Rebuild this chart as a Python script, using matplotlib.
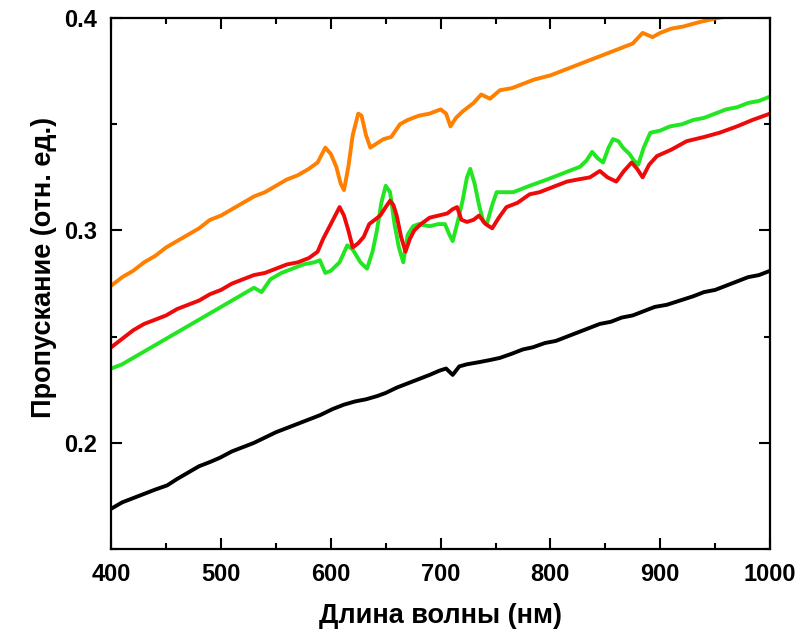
import matplotlib
matplotlib.use("Agg")
import matplotlib.pyplot as plt
from matplotlib.ticker import MultipleLocator

plt.rcParams['font.family'] = ['Liberation Sans', 'DejaVu Sans']
plt.rcParams['font.weight'] = 'bold'

# spectra: wavelength (nm) and transmission (arb. units)
wl_orange = [400, 410, 420, 430, 440, 450, 460, 470, 480, 490, 500, 510, 520, 530, 540,
             550, 560, 570, 580, 588, 595, 600, 605, 609, 612, 616, 620, 625, 628, 632,
             636, 642, 648, 655, 663, 670, 680, 690, 700, 705, 709, 714, 720, 730, 737,
             745, 754, 765, 775, 785, 800, 815, 830, 845, 860, 875, 884, 893, 900, 910,
             921, 935, 952, 965, 980, 1000]
t_orange = [0.274, 0.278, 0.281, 0.285, 0.288, 0.292, 0.295, 0.298, 0.301, 0.305, 0.307,
            0.310, 0.313, 0.316, 0.318, 0.321, 0.324, 0.326, 0.329, 0.332, 0.339, 0.336,
            0.330, 0.322, 0.319, 0.330, 0.345, 0.355, 0.354, 0.345, 0.339, 0.341, 0.343,
            0.344, 0.350, 0.352, 0.354, 0.355, 0.357, 0.355, 0.349, 0.353, 0.356, 0.360,
            0.364, 0.362, 0.366, 0.367, 0.369, 0.371, 0.373, 0.376, 0.379, 0.382, 0.385,
            0.388, 0.393, 0.391, 0.393, 0.395, 0.396, 0.398, 0.400, 0.401, 0.403, 0.406]

wl_green = [400, 410, 420, 430, 440, 450, 460, 470, 480, 490, 500, 510, 520, 530, 537,
            545, 555, 565, 575, 585, 590, 595, 600, 608, 615, 620, 627, 633, 638, 642,
            646, 650, 654, 658, 662, 666, 670, 675, 680, 690, 698, 704, 708, 711, 716,
            720, 724, 727, 731, 735, 739, 742, 747, 751, 766, 781, 797, 812, 827, 833,
            838, 843, 848, 853, 857, 862, 866, 872, 876, 880, 885, 891, 900, 909, 920,
            930, 940, 950, 960, 970, 980, 990, 1000]
t_green = [0.235, 0.237, 0.240, 0.243, 0.246, 0.249, 0.252, 0.255, 0.258, 0.261, 0.264,
           0.267, 0.270, 0.273, 0.271, 0.277, 0.280, 0.282, 0.284, 0.285, 0.286, 0.280,
           0.281, 0.285, 0.293, 0.291, 0.285, 0.282, 0.290, 0.300, 0.313, 0.321, 0.318,
           0.303, 0.292, 0.285, 0.298, 0.302, 0.303, 0.302, 0.303, 0.303, 0.298, 0.295,
           0.305, 0.314, 0.325, 0.329, 0.322, 0.312, 0.304, 0.303, 0.312, 0.318, 0.318,
           0.321, 0.324, 0.327, 0.330, 0.333, 0.337, 0.334, 0.332, 0.339, 0.343, 0.342,
           0.339, 0.336, 0.333, 0.331, 0.339, 0.346, 0.347, 0.349, 0.350, 0.352, 0.353,
           0.355, 0.357, 0.358, 0.360, 0.361, 0.363]

wl_red = [400, 410, 420, 430, 440, 450, 460, 470, 480, 490, 500, 510, 520, 530, 540,
          550, 560, 570, 580, 588, 593, 598, 603, 608, 612, 616, 620, 625, 630, 635,
          640, 645, 650, 654, 657, 660, 664, 668, 672, 676, 682, 690, 698, 706, 711,
          715, 719, 724, 730, 735, 741, 747, 753, 760, 770, 781, 790, 800, 815, 825,
          836, 845, 852, 860, 867, 874, 879, 884, 890, 897, 910, 924, 940, 954, 970,
          984, 1000]
t_red = [0.245, 0.249, 0.253, 0.256, 0.258, 0.260, 0.263, 0.265, 0.267, 0.270, 0.272,
         0.275, 0.277, 0.279, 0.280, 0.282, 0.284, 0.285, 0.287, 0.290, 0.296, 0.301,
         0.306, 0.311, 0.307, 0.300, 0.292, 0.294, 0.297, 0.303, 0.305, 0.307, 0.311,
         0.314, 0.312, 0.307, 0.297, 0.290, 0.296, 0.300, 0.303, 0.306, 0.307, 0.308,
         0.310, 0.311, 0.305, 0.304, 0.305, 0.307, 0.303, 0.301, 0.306, 0.311, 0.313,
         0.317, 0.318, 0.320, 0.323, 0.324, 0.325, 0.328, 0.325, 0.323, 0.328, 0.332,
         0.329, 0.325, 0.331, 0.335, 0.338, 0.342, 0.344, 0.346, 0.349, 0.352, 0.355]

wl_black = [400, 410, 420, 430, 440, 451, 460, 470, 480, 490, 499, 510, 520, 530, 542,
            550, 560, 570, 580, 590, 602, 612, 622, 632, 642, 650, 660, 670, 680, 690,
            699, 705, 711, 717, 724, 735, 745, 754, 765, 775, 784, 795, 805, 815, 825,
            835, 845, 855, 865, 875, 885, 895, 906, 918, 930, 940, 950, 960, 970, 980,
            990, 1000]
t_black = [0.169, 0.172, 0.174, 0.176, 0.178, 0.180, 0.183, 0.186, 0.189, 0.191, 0.193,
           0.196, 0.198, 0.200, 0.203, 0.205, 0.207, 0.209, 0.211, 0.213, 0.216, 0.218,
           0.2195, 0.2205, 0.222, 0.2235, 0.226, 0.228, 0.230, 0.232, 0.234, 0.235, 0.232,
           0.236, 0.237, 0.238, 0.239, 0.240, 0.242, 0.244, 0.245, 0.247, 0.248, 0.250,
           0.252, 0.254, 0.256, 0.257, 0.259, 0.260, 0.262, 0.264, 0.265, 0.267, 0.269,
           0.271, 0.272, 0.274, 0.276, 0.278, 0.279, 0.281]

fig = plt.figure(figsize=(8, 6.37), dpi=100)
ax = fig.add_axes([0.139, 0.138, 0.8235, 0.8337])

lw = 2.8
ax.plot(wl_orange, t_orange, color='#ff8000', lw=lw)
ax.plot(wl_green, t_green, color='#22e622', lw=lw)
ax.plot(wl_red, t_red, color='#ee0a0a', lw=lw)
ax.plot(wl_black, t_black, color='black', lw=lw)

ax.set_xlim(400, 1000)
ax.set_ylim(0.15, 0.4)
ax.xaxis.set_major_locator(MultipleLocator(100))
ax.xaxis.set_minor_locator(MultipleLocator(50))
ax.yaxis.set_major_locator(MultipleLocator(0.1))
ax.yaxis.set_minor_locator(MultipleLocator(0.05))

ax.tick_params(which='both', direction='in', top=True, right=True, width=1.5,
               labelsize=17)
ax.tick_params(which='major', length=8, pad=10)
ax.tick_params(which='minor', length=4)
for s in ax.spines.values():
    s.set_linewidth(1.6)

ax.set_xlabel('Длина волны (нм)', fontsize=19.5, fontweight='bold', labelpad=12)
ax.set_ylabel('Пропускание (отн. ед.)', fontsize=19.5, fontweight='bold', labelpad=5)
ax.yaxis.label.set_y(0.53)

fig.savefig('out.png', dpi=100)
